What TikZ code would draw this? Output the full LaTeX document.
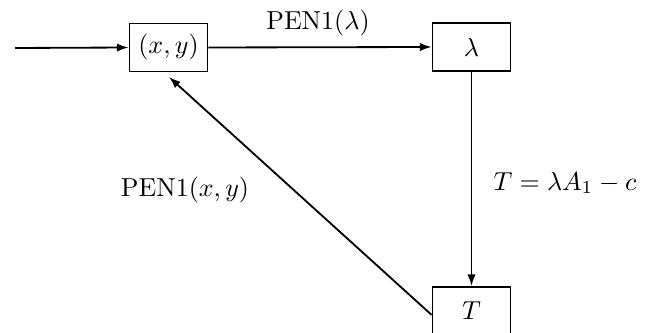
\documentclass[tikz,border=0pt]{standalone}
\usetikzlibrary{arrows.meta}
\begin{document}
\begin{tikzpicture}[x=0.3846pt, y=-0.3846pt,
  box/.style={draw, line width=0.7pt, inner sep=0pt, minimum width=30pt, minimum height=18.5pt},
  conn/.style={line width=0.7pt, -{Latex[length=4.5pt, width=3.2pt]}},
  lbl/.style={inner sep=0pt}]
\useasboundingbox (0,0) rectangle (656,333);
\node[box] (xy) at (168.5,47.5) {$(x,y)$};
\node[box] (lam) at (471.5,47) {$\lambda$};
\node[box] (T) at (471.5,311) {$T$};
\coordinate (in) at (15,48);
\coordinate (xyb) at (169,77);
\draw[conn] (in) -- (xy.west);
\draw[conn] (xy.east) -- (lam.west);
\draw[conn] (lam.south) -- (T.north);
\draw[conn] ([yshift=-1.5pt]T.west) -- (xyb);
\node[lbl] (l1) at (318,23) {$\mathrm{PEN1}(\lambda)$};
\node[lbl, anchor=west] (l2) at (493,183) {$T=\lambda A_1-c$};
\node[lbl] (l3) at (185,190) {$\mathrm{PEN1}(x,y)$};
\end{tikzpicture}
\end{document}
